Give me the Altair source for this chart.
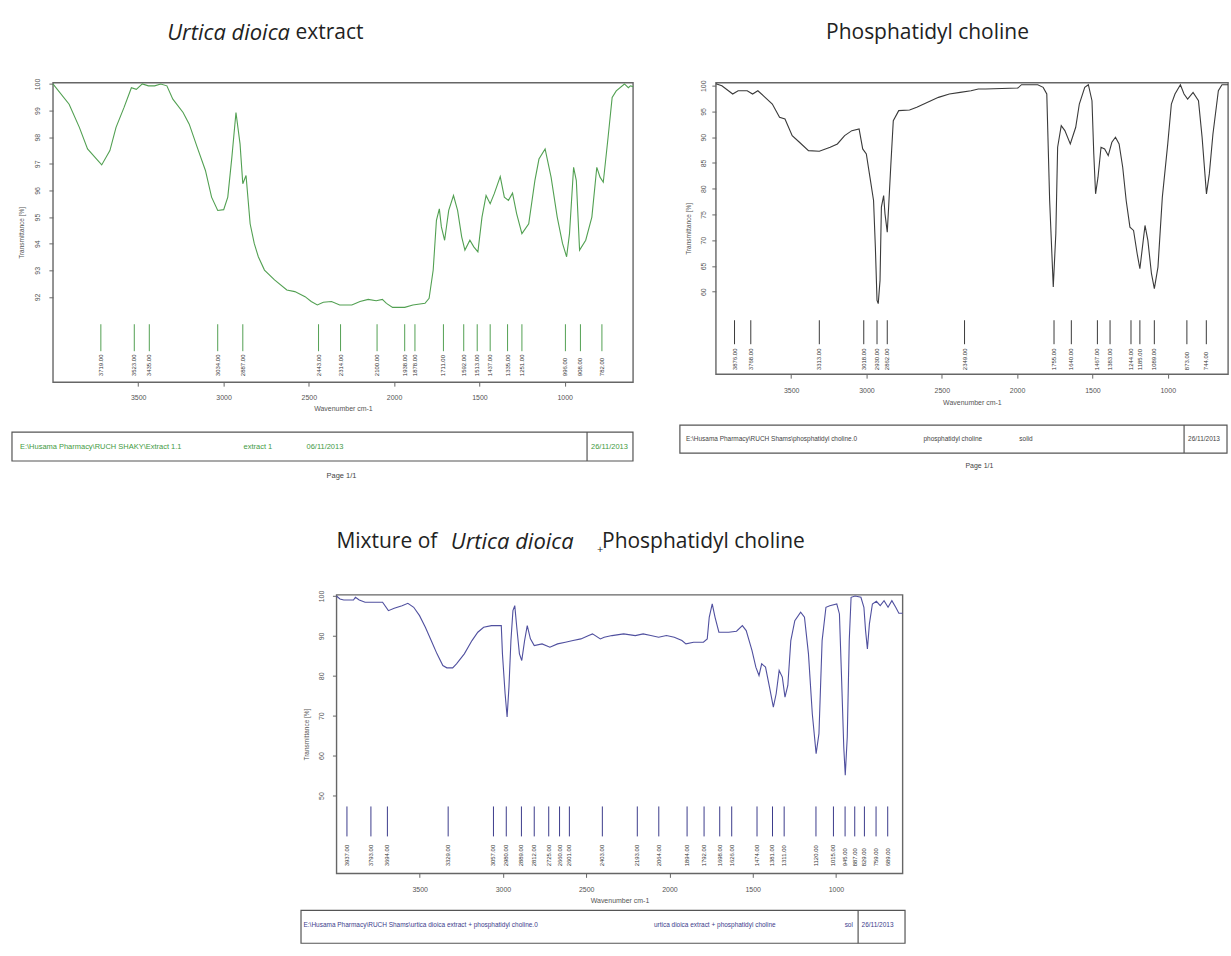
import altair as alt
import pandas as pd

FONT = "Liberation Sans"
TFONT = "Open Sans"
X_TICKS = [3500, 3000, 2500, 2000, 1500, 1000]

# ---------------- Panel 1: Urtica dioica extract (green) ----------------
ud_wn = [4000, 3905, 3845, 3797, 3714, 3666, 3630, 3583, 3540, 3511,
         3476, 3440, 3404, 3368, 3332, 3297, 3237, 3201, 3154, 3106,
         3070, 3034, 2999, 2975, 2951, 2927, 2903, 2887, 2868, 2844,
         2820, 2796, 2760, 2701, 2629, 2582, 2522, 2486, 2450, 2415,
         2367, 2319, 2248, 2200, 2152, 2105, 2069, 2045, 2009, 1938,
         1890, 1819, 1795, 1771, 1752, 1735, 1723, 1704, 1680, 1652,
         1628, 1604, 1585, 1556, 1533, 1509, 1485, 1461, 1437, 1413,
         1378, 1354, 1330, 1306, 1282, 1251, 1211, 1175, 1151, 1115,
         1080, 1044, 1013, 989, 972, 948, 932, 913, 877, 841,
         812, 793, 774, 746, 722, 698, 650, 627, 615, 600]
ud_t = [100.0, 99.24, 98.37, 97.56, 96.96, 97.50, 98.37, 99.12, 99.86, 99.80,
        100.0, 99.93, 99.93, 100.0, 99.93, 99.43, 98.93, 98.49, 97.62, 96.75,
        95.75, 95.25, 95.28, 95.75, 97.25, 98.93, 97.74, 96.25, 96.56, 94.75,
        94.01, 93.51, 93.01, 92.64, 92.26, 92.20, 92.01, 91.83, 91.70, 91.80,
        91.83, 91.70, 91.70, 91.83, 91.91, 91.86, 91.91, 91.76, 91.61, 91.61,
        91.70, 91.76, 91.95, 93.01, 94.88, 95.31, 94.63, 94.13, 95.25, 95.81,
        95.25, 94.26, 93.76, 94.13, 93.88, 93.69, 95.00, 95.81, 95.50, 95.88,
        96.52, 95.75, 95.63, 95.90, 95.13, 94.38, 94.75, 96.37, 97.18, 97.56,
        96.50, 95.00, 94.01, 93.51, 94.38, 96.87, 96.37, 93.76, 94.13, 95.00,
        96.87, 96.50, 96.31, 97.99, 99.49, 99.74, 100.0, 99.86, 99.93, 99.90]
ud_peaks = [3719, 3523, 3435, 3034, 2887, 2443, 2314, 2100, 1938, 1878,
            1711, 1592, 1513, 1437, 1335, 1251, 996, 908, 782]
ud_yticks = [100, 99, 98, 97, 96, 95, 94, 93, 92]

# ---------------- Panel 2: Phosphatidyl choline (grey) ----------------
pc_wn = [4000, 3960, 3888, 3852, 3792, 3756, 3721, 3673, 3625, 3577,
         3541, 3493, 3445, 3385, 3313, 3241, 3193, 3145, 3097, 3049,
         3025, 3001, 2977, 2953, 2941, 2930, 2922, 2910, 2901, 2886,
         2877, 2862, 2853, 2838, 2822, 2786, 2714, 2666, 2594, 2522,
         2450, 2378, 2306, 2258, 2210, 1995, 1971, 1863, 1827, 1803,
         1784, 1760, 1743, 1731, 1707, 1683, 1647, 1611, 1587, 1551,
         1527, 1503, 1491, 1479, 1463, 1443, 1419, 1395, 1371, 1347,
         1323, 1299, 1276, 1251, 1227, 1203, 1185, 1168, 1151, 1132,
         1108, 1089, 1065, 1036, 1000, 976, 952, 916, 892, 868,
         832, 796, 772, 743, 724, 700, 664, 640, 600]
pc_t = [100.4, 100.0, 98.39, 99.03, 99.03, 98.39, 99.03, 97.74, 96.45, 93.86,
        93.54, 90.31, 89.02, 87.40, 87.27, 88.05, 88.70, 90.31, 91.28, 91.60,
        87.73, 86.76, 82.24, 77.71, 68.67, 58.33, 57.69, 62.21, 76.42, 78.68,
        75.13, 71.58, 76.42, 84.82, 93.22, 95.16, 95.28, 95.80, 96.77, 97.74,
        98.39, 98.71, 99.03, 99.35, 99.35, 99.55, 100.2, 100.2, 99.68, 98.39,
        77.71, 60.92, 71.25, 88.05, 92.25, 91.28, 88.70, 91.93, 96.45, 99.68,
        100.2, 97.09, 86.76, 79.01, 82.24, 88.05, 87.73, 86.43, 89.02, 89.99,
        88.70, 84.17, 77.71, 72.55, 71.90, 67.38, 64.47, 68.67, 72.87, 69.96,
        63.50, 60.59, 64.79, 78.36, 88.70, 96.45, 98.39, 100.2, 98.39, 97.42,
        98.71, 97.09, 89.99, 79.01, 82.88, 90.63, 99.03, 100.2, 100.2]
pc_peaks = [3876, 3768, 3313, 3018, 2930, 2862, 2349, 1755, 1640, 1467,
            1383, 1244, 1185, 1089, 873, 744]
pc_yticks = [100, 95, 90, 85, 80, 75, 70, 65, 60]

# ---------------- Panel 3: mixture (blue) ----------------
mx_wn = [4000, 3979, 3956, 3898, 3886, 3863, 3828, 3723, 3688, 3653,
         3606, 3571, 3536, 3501, 3466, 3431, 3396, 3361, 3337, 3302,
         3279, 3232, 3186, 3151, 3116, 3069, 3010, 3003, 2987, 2975,
         2964, 2952, 2940, 2929, 2917, 2901, 2887, 2870, 2854, 2835,
         2812, 2765, 2718, 2672, 2625, 2579, 2532, 2485, 2462, 2415,
         2392, 2345, 2275, 2205, 2158, 2112, 2065, 2018, 1971, 1925,
         1901, 1855, 1796, 1773, 1761, 1743, 1726, 1703, 1644, 1597,
         1562, 1539, 1504, 1481, 1462, 1446, 1423, 1399, 1376, 1359,
         1341, 1322, 1306, 1289, 1271, 1247, 1212, 1189, 1165, 1142,
         1119, 1102, 1083, 1060, 1037, 995, 979, 967, 953, 944,
         932, 920, 909, 885, 850, 832, 822, 811, 799, 781,
         757, 734, 711, 687, 664, 641, 622, 600]
mx_t = [100.0, 99.25, 99.0, 99.0, 99.67, 99.0, 98.42, 98.42, 96.33, 96.92,
        97.58, 98.17, 97.17, 95.08, 92.17, 88.83, 85.5, 82.58, 82.0, 82.0,
        83.0, 85.5, 88.83, 90.92, 92.17, 92.58, 92.58, 85.5, 75.5, 69.67,
        77.17, 88.83, 96.33, 97.58, 92.17, 85.5, 83.83, 88.83, 92.58, 89.25,
        87.58, 88.0, 87.17, 88.0, 88.42, 88.83, 89.25, 90.08, 90.5, 89.25,
        89.67, 90.08, 90.5, 90.08, 90.5, 90.08, 89.67, 90.08, 89.67, 88.83,
        88.0, 88.42, 88.42, 89.25, 94.67, 98.0, 94.67, 90.92, 90.92, 91.17,
        92.58, 91.33, 86.33, 82.17, 80.08, 83.0, 82.17, 77.17, 72.17, 75.5,
        81.33, 79.67, 74.67, 77.58, 88.83, 93.83, 95.92, 94.67, 85.5, 70.5,
        60.5, 65.5, 88.83, 97.17, 97.58, 98.0, 95.5, 80.5, 62.17, 55.08,
        64.67, 88.83, 99.67, 100.0, 99.67, 97.17, 91.33, 86.75, 93.0, 98.0,
        98.67, 97.58, 98.83, 97.17, 98.83, 97.17, 95.67, 95.67]
mx_peaks = [3937, 3793, 3694, 3329, 3057, 2980, 2889, 2812, 2725, 2660,
            2601, 2403, 2193, 2064, 1894, 1792, 1698, 1626, 1474, 1381,
            1311, 1120, 1015, 945, 887, 829, 759, 689]
mx_yticks = [100, 90, 80, 70, 60, 50]

ONE = pd.DataFrame({"k": [0]})


def txt(s, x, y, **kw):
    return alt.Chart(ONE).mark_text(text=s, **kw).encode(x=alt.value(x), y=alt.value(y))


def box(x0, x1, y0, y1, div):
    frame = alt.Chart(ONE).mark_rect(fill="transparent", stroke="#555", strokeWidth=1.2).encode(
        x=alt.value(x0), x2=alt.value(x1), y=alt.value(y0), y2=alt.value(y1))
    d = alt.Chart(ONE).mark_rule(color="#555", strokeWidth=1.2).encode(
        x=alt.value(div), y=alt.value(y0), y2=alt.value(y1))
    return [frame, d]


def spectrum(wn, t, peaks, yticks, ydom, line_color, mark_color, g):
    df = pd.DataFrame({"Wavenumber": wn, "T": t})
    pk = pd.DataFrame({"Wavenumber": peaks})
    xs = alt.Scale(domain=[4000, 600], nice=False, zero=False)
    ys = alt.Scale(domain=ydom, nice=False, zero=False)
    xax = alt.Axis(values=X_TICKS, format="d", title="Wavenumber cm-1", grid=False, domain=False,
                   tickSize=4, tickColor="#666", labelFontSize=7, labelColor="#555", labelFont=FONT,
                   labelPadding=g["xlp"], titleFont=FONT, titleFontSize=7, titleFontWeight="normal",
                   titleColor="#555", titlePadding=g["xtp"])
    yax = alt.Axis(values=yticks, format="d", title="Transmittance [%]", grid=False, domain=False,
                   tickSize=4, tickColor="#666", labelFontSize=7, labelColor="#555", labelFont=FONT,
                   labelAngle=270, labelAlign="center", labelBaseline="bottom",
                   labelPadding=g["ylp"], titleFont=FONT, titleFontSize=6.5, titleFontWeight="normal",
                   titleColor="#555", titlePadding=g["ytp"])
    line = alt.Chart(df).mark_line(color=line_color, strokeWidth=1.1).encode(
        x=alt.X("Wavenumber:Q", scale=xs, axis=xax),
        y=alt.Y("T:Q", scale=ys, axis=yax))
    rules = alt.Chart(pk).mark_rule(color=mark_color, strokeWidth=1).encode(
        x=alt.X("Wavenumber:Q", scale=xs), y=alt.value(g["r0"]), y2=alt.value(g["r1"]))
    labs = alt.Chart(pk).mark_text(angle=270, align="left", baseline="middle", fontSize=6,
                                   font=FONT, color="#333").encode(
        x=alt.X("Wavenumber:Q", scale=xs), y=alt.value(g["t0"]),
        text=alt.Text("Wavenumber:Q", format=".2f"))
    return [line, rules, labs]


TS = 21      # title font size
TSI = 22     # italic part of the titles

# ---- panel 1
g1 = dict(xlp=7, xtp=4, ylp=8, ytp=9, r0=242, r1=269, t0=294)
p1_layers = spectrum(ud_wn, ud_t, ud_peaks, ud_yticks, [88.8, 100.05],
                     "#52a052", "#52a052", g1)
p1_layers += box(-41, 581, 350, 379, 535)
p1_layers += [
    txt("E:\\Husama Pharmacy\\RUCH SHAKY\\Extract 1.1", -33, 365, align="left", fontSize=7.5, font=FONT, color="#3f9a3f"),
    txt("extract 1", 191, 365, align="left", fontSize=7.5, font=FONT, color="#3f9a3f"),
    txt("06/11/2013", 254, 365, align="left", fontSize=7.5, font=FONT, color="#3f9a3f"),
    txt("26/11/2013", 539, 365, align="left", fontSize=7.5, font=FONT, color="#3f9a3f"),
    txt("Page 1/1", 289, 394, align="center", fontSize=7.5, font=FONT, color="#444"),
    txt("Urtica dioica", 237.5, -50, align="right", baseline="middle", fontSize=TSI, font=TFONT,
        fontStyle="italic", color="#222"),
    txt("extract", 243, -50, align="left", baseline="middle", fontSize=TS, font=TFONT, color="#222"),
]
p1 = alt.layer(*p1_layers).properties(width=581, height=300)

# ---- panel 2
g2 = dict(xlp=8, xtp=5, ylp=5, ytp=8, r0=238, r1=262, t0=288)
p2_layers = spectrum(pc_wn, pc_t, pc_peaks, pc_yticks, [44.0, 100.6],
                     "#3a3a3a", "#3a3a3a", g2)
p2_layers += box(-36, 512, 343, 371, 469)
p2_layers += [
    txt("E:\\Husama Pharmacy\\RUCH Shams\\phosphatidyl choline.0", -30, 357, align="left", fontSize=6.5, font=FONT, color="#444"),
    txt("phosphatidyl choline", 208, 357, align="left", fontSize=6.5, font=FONT, color="#444"),
    txt("solid", 304, 357, align="left", fontSize=6.5, font=FONT, color="#444"),
    txt("26/11/2013", 473, 357, align="left", fontSize=6.5, font=FONT, color="#444"),
    txt("Page 1/1", 264, 384, align="center", fontSize=7, font=FONT, color="#444"),
    txt("Phosphatidyl choline", 212, -50, align="center", baseline="middle", fontSize=TS, font=TFONT, color="#222"),
]
p2 = alt.layer(*p2_layers).properties(width=513, height=292)

# ---- panel 3
g3 = dict(xlp=8, xtp=4, ylp=8, ytp=8, r0=212, r1=242, t0=272)
p3_layers = spectrum(mx_wn, mx_t, mx_peaks, mx_yticks, [30.5, 100.3],
                     "#50509f", "#3c3c8c", g3)
p3_layers += box(-35.5, 569.5, 316, 349, 522.5)
p3_layers += [
    txt("E:\\Husama Pharmacy\\RUCH Shams\\urtica dioica extract + phosphatidyl choline.0", -33, 331,
        align="left", fontSize=6.5, font=FONT, color="#3c3c8c"),
    txt("urtica dioica extract + phosphatidyl choline", 318, 331, align="left", fontSize=6.5, font=FONT, color="#3c3c8c"),
    txt("sol", 509, 331, align="left", fontSize=6.5, font=FONT, color="#3c3c8c"),
    txt("26/11/2013", 526, 331, align="left", fontSize=6.5, font=FONT, color="#3c3c8c"),
    txt("Mixture of", 0, -53, align="left", baseline="middle", fontSize=TS, font=TFONT, color="#222"),
    txt("Urtica dioica", 114.5, -53, align="left", baseline="middle", fontSize=TSI, font=TFONT,
        fontStyle="italic", color="#222"),
    txt("+", 261, -45, align="left", baseline="middle", fontSize=11, font=TFONT, color="#222"),
    txt("Phosphatidyl choline", 266, -53, align="left", baseline="middle", fontSize=TS, font=TFONT, color="#222"),
]
p3 = alt.layer(*p3_layers).properties(width=567, height=279)

# empty spacer that shifts the third spectrum to the right
spacer = alt.Chart(ONE).mark_rule(strokeOpacity=0).encode(
    x=alt.value(0), y=alt.value(0), y2=alt.value(1)
).properties(width=280, height=10, view={"stroke": "transparent"})

top = alt.hconcat(p1, p2, spacing=83, bounds="flush")
bottom = alt.hconcat(spacer, p3, spacing=4, bounds="flush")
chart = alt.vconcat(top, bottom, spacing=49).properties(
    padding={"left": 10, "top": 20, "right": 0, "bottom": 0},
    background="white",
).configure_view(stroke="#666", strokeWidth=1.4)

chart.save("out.html", embed_options={"renderer": "svg", "actions": False})
